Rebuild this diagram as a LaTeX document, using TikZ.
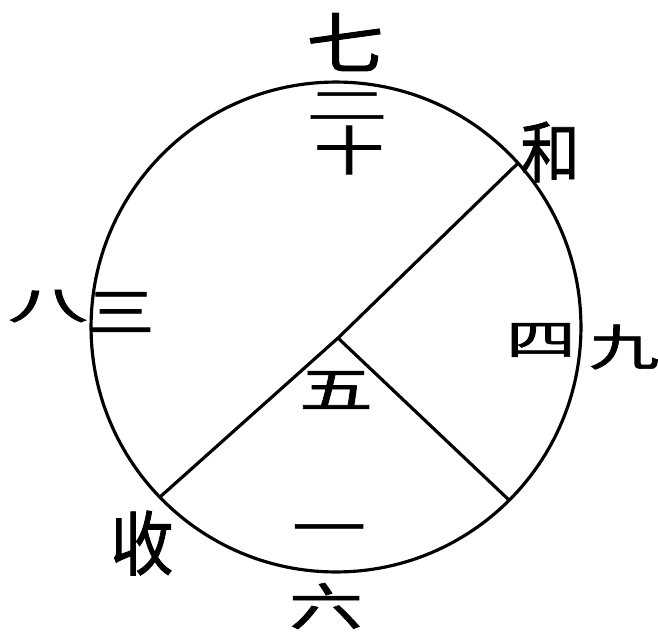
\documentclass[tikz,border=0pt]{standalone}
\usepackage{fontspec}
\newfontfamily\cjk{Noto Sans CJK SC}[FakeBold=1.2]
\usetikzlibrary{calc}
\newcommand{\sq}[3]{\scalebox{#1}[#2]{#3}}
\begin{document}
\begin{tikzpicture}[x=0.02cm,y=-0.02cm,
  line/.style={line width=1.8pt,black},
  glyph/.style={inner sep=0pt,font=\cjk\fontsize{40}{40}\selectfont}]
\useasboundingbox (0,0) rectangle (658,632);
\coordinate (C) at (336,327);
\draw[line] (C) circle[radius=4.9cm];
\coordinate (P1) at ($(C)+(42:4.9cm)$);
\coordinate (P2) at ($(C)+(224:4.9cm)$);
\coordinate (P3) at ($(C)+(-45:4.9cm)$);
\coordinate (A) at (338,338);
\draw[line] (P1) -- (A) -- (P2);
\draw[line] (A) -- (P3);
\node[glyph] (qi) at (345,42) {\sq{1.1}{0.95}{七}};
\node[glyph] (er) at (347,106) {\sq{1.15}{0.55}{二}};
\node[glyph] (shi) at (349,150) {\sq{1}{0.75}{十}};
\node[glyph] (ba) at (48,306) {\sq{1.15}{0.55}{八}};
\node[glyph] (san) at (121,312) {\sq{0.95}{0.75}{三}};
\node[glyph] (si) at (541,340) {\sq{1}{0.6}{四}};
\node[glyph] (jiu) at (624,347) {\sq{1}{0.7}{九}};
\node[glyph] (wu) at (336,390) {\sq{1.05}{0.7}{五}};
\node[glyph] (yi) at (329,535) {\sq{1.05}{0.7}{一}};
\node[glyph] (liu) at (326,606) {\sq{1.05}{0.72}{六}};
\node[glyph] (he) at (550,152) {\sq{0.85}{0.95}{和}};
\node[glyph] (shou) at (142,543) {\sq{0.9}{1}{收}};
\end{tikzpicture}
\end{document}
